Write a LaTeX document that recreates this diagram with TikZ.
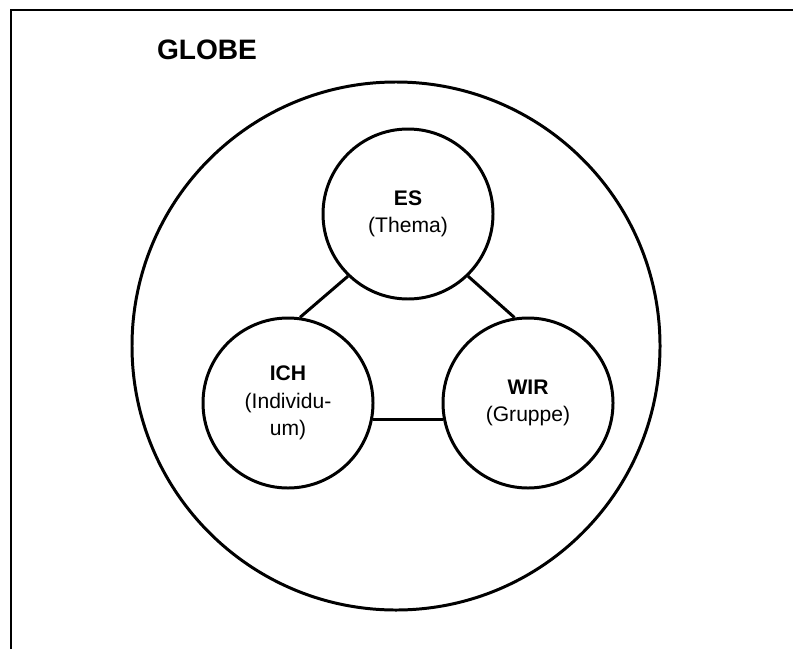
\documentclass[tikz,border=0pt]{standalone}
\usepackage{fontspec}
\setmainfont{Liberation Sans}
\usepackage{tikz}

\tikzset{
  kreis/.style={draw, circle, line width=1.7pt, minimum size=3.4cm, inner sep=0pt,
    align=center, font=\fontsize{12}{15.5}\selectfont},
  rahmen/.style={line width=1.1pt},
  verbindung/.style={line width=1.7pt}
}

\begin{document}
\begin{tikzpicture}

% Define the page area for the right proportions
\useasboundingbox (0,0) rectangle (15.86,12.98);

% Draw the frame (only left and top edges are visible)
\coordinate (R1) at (0.22,0);
\coordinate (R2) at (0.22,12.78);
\coordinate (R3) at (15.86,12.78);
\draw[rahmen] (R1) -- (R2) -- (R3);

% Draw the big circle and its title
\node[draw, circle, line width=1.7pt, minimum size=10.56cm, inner sep=0pt] (globe) at (7.92,6.06) {};
\node[font=\fontsize{16}{19}\selectfont\bfseries] (titel) at (4.14,11.98) {GLOBE};

% Draw the three small circles
\node[kreis] (es) at (8.16,8.70) {\textbf{ES}\\(Thema)};
\node[kreis] (ich) at (5.76,4.92) {\textbf{ICH}\\(Individu-\\um)};
\node[kreis] (wir) at (10.56,4.92) {\textbf{WIR}\\(Gruppe)};

% Draw the connecting lines
\draw[verbindung] (ich.82) -- (es.226);
\draw[verbindung] (es.314) -- (wir.99);
\draw[verbindung] (ich.-11) -- (wir.191);

\end{tikzpicture}
\end{document}
